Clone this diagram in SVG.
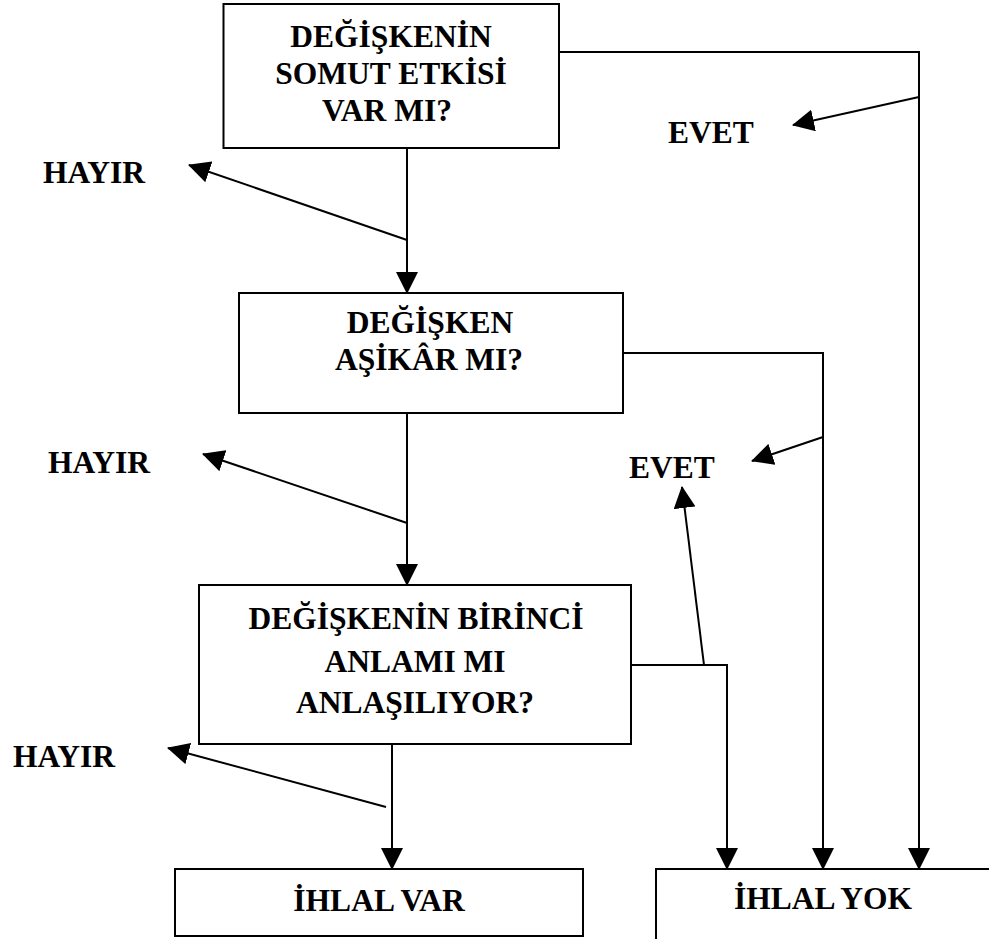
<svg xmlns="http://www.w3.org/2000/svg" width="989" height="939" viewBox="0 0 989 939">
<style>
.box{fill:#fff;stroke:#000;stroke-width:2}
.t{font-family:"Liberation Serif","Times New Roman",serif;font-weight:bold;font-size:31.5px;fill:#000}
.c{text-anchor:middle}
.ln{fill:none;stroke:#000;stroke-width:2}
.ar{fill:none;stroke:#000;stroke-width:2;marker-end:url(#ah)}
</style>
<defs>
<marker id="ah" markerUnits="userSpaceOnUse" markerWidth="22" markerHeight="22" viewBox="0 0 22 22" refX="21" refY="11" orient="auto">
<path d="M0,0 L22,11 L0,22 z" fill="#000"/>
</marker>
</defs>
<rect width="989" height="939" fill="#fff"/>
<g id="connectors">
<polyline class="ln" points="559,52 919,52 919,858"/>
<line class="ar" x1="919" y1="850" x2="919" y2="869"/>
<line class="ar" x1="919" y1="97" x2="793" y2="125"/>
<line class="ar" x1="407" y1="148" x2="407" y2="293"/>
<line class="ar" x1="407" y1="240" x2="189" y2="165"/>
<polyline class="ln" points="623,353 823,353 823,858"/>
<line class="ar" x1="823" y1="850" x2="823" y2="869"/>
<line class="ar" x1="823" y1="437" x2="752" y2="461"/>
<line class="ar" x1="407" y1="413" x2="407" y2="585"/>
<line class="ar" x1="407" y1="523" x2="203" y2="454"/>
<polyline class="ln" points="631,665 727,665 727,858"/>
<line class="ar" x1="727" y1="850" x2="727" y2="869"/>
<line class="ar" x1="704" y1="665" x2="682" y2="487"/>
<line class="ar" x1="392" y1="744" x2="392" y2="869"/>
<line class="ar" x1="386" y1="807" x2="168" y2="748"/>
</g>
<g id="n1">
<rect class="box" x="223.5" y="4" width="335.5" height="144"/>
<text class="t c" x="391" y="47">DEĞİŞKENİN</text>
<text class="t c" x="391" y="84">SOMUT ETKİSİ</text>
<text class="t c" x="387" y="121">VAR MI?</text>
</g>
<g id="n2">
<rect class="box" x="239" y="293" width="384" height="120"/>
<text class="t c" x="430" y="333">DEĞİŞKEN</text>
<text class="t c" x="429" y="370">AŞİKÂR MI?</text>
</g>
<g id="n3">
<rect class="box" x="199" y="585" width="432" height="159"/>
<text class="t c" x="416" y="629">DEĞİŞKENİN BİRİNCİ</text>
<text class="t c" x="415" y="672">ANLAMI MI</text>
<text class="t c" x="415" y="713">ANLAŞILIYOR?</text>
</g>
<g id="n4">
<rect class="box" x="175" y="869" width="408" height="67"/>
<text class="t c" x="379" y="911">İHLAL VAR</text>
</g>
<g id="n5">
<rect class="box" x="656" y="869" width="400" height="100"/>
<text class="t c" x="823" y="909">İHLAL YOK</text>
</g>
<g id="labels">
<text class="t" x="43" y="183">HAYIR</text>
<text class="t" x="48" y="473">HAYIR</text>
<text class="t" x="13" y="767">HAYIR</text>
<text class="t" x="668" y="143">EVET</text>
<text class="t" x="629" y="478">EVET</text>
</g>
</svg>
